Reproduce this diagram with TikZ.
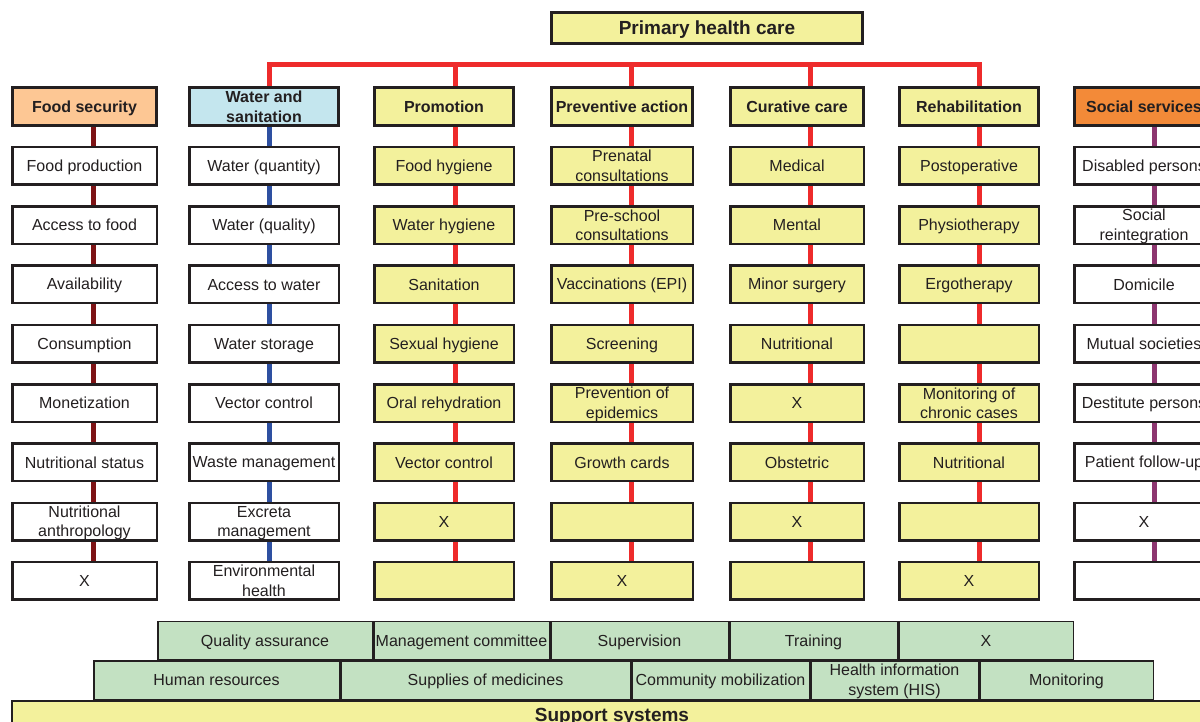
\documentclass[tikz,border=0pt]{standalone}
\usepackage{fontspec}
\setmainfont{Liberation Sans}
\usepackage{xcolor}
\usetikzlibrary{backgrounds}

\definecolor{boxline}{HTML}{231F20}
\definecolor{phcyellow}{HTML}{F3F19C}
\definecolor{supgreen}{HTML}{C3E1C2}
\definecolor{foodorange}{HTML}{FDC794}
\definecolor{waterblue}{HTML}{C4E6EE}
\definecolor{socialorange}{HTML}{F38A38}
\definecolor{linkred}{HTML}{EE2B2B}
\definecolor{linkdark}{HTML}{7D1315}
\definecolor{linkblue}{HTML}{2E50A1}
\definecolor{linkpurple}{HTML}{8D3670}

% struts that centre the capitals
\newcommand{\cell}[1]{\rule{0pt}{0.9em}#1\rule[-0.18em]{0pt}{0pt}}

\begin{document}
\begin{tikzpicture}[
        x=1pt,y=-1pt,
        box/.style={
            draw=boxline,
            line width=2.5pt,
            minimum height=37.5pt,
            inner xsep=1pt,
            inner ysep=0pt,
            align=center,
            text=boxline,
            font=\fontsize{16}{19.5}\selectfont
          },
        headbox/.style={
            box,
            line width=3pt,
            minimum height=38pt,
            font=\fontsize{16}{19.5}\selectfont\bfseries
          },
        supbox/.style={
            box,
            line width=1.5pt,
            fill=supgreen,
            minimum height=38.5pt
          },
        link/.style={
            line width=5pt
          }
      ]
      \useasboundingbox (0,0) rectangle (1200,722);

      % Primary health care
      \node[headbox, fill=phcyellow, minimum width=311pt, minimum height=31pt,
        font=\fontsize{19}{22}\selectfont\bfseries] (phc) at (707,28) {\cell{Primary health care}};

      % x positions of the links
      \coordinate (bar) at (0,65);
      \coordinate (food-x) at (93,0);
      \coordinate (water-x) at (269,0);
      \coordinate (promo-x) at (455,0);
      \coordinate (prev-x) at (631,0);
      \coordinate (cure-x) at (810,0);
      \coordinate (rehab-x) at (979,0);
      \coordinate (social-x) at (1154,0);

      % Food security
      \node[headbox, fill=foodorange, minimum width=144pt] (food0) at (84.5,106.5) {\cell{Food security}};
      \foreach \txt [count=\i] in {Food production, Access to food, Availability, Consumption,
          Monetization, Nutritional status, {Nutritional\\anthropology}, X}
        \node[box, fill=white, minimum width=144.5pt] (food\i) at (84.5,{106.5+59.3*\i}) {\cell{\txt}};

      % Water and sanitation
      \node[headbox, fill=waterblue, minimum width=149pt] (water0) at (264,106.5) {\cell{Water and\\sanitation}};
      \foreach \txt [count=\i] in {Water (quantity), Water (quality), Access to water, Water storage,
          Vector control, Waste management, {Excreta\\management}, {Environmental\\health}}
        \node[box, fill=white, minimum width=149.5pt] (water\i) at (264,{106.5+59.3*\i}) {\cell{\txt}};

      % Promotion
      \node[headbox, fill=phcyellow, minimum width=139pt] (promo0) at (444,106.5) {\cell{Promotion}};
      \foreach \txt [count=\i] in {Food hygiene, Water hygiene, Sanitation, Sexual hygiene,
          Oral rehydration, Vector control, X, {}}
        \node[box, fill=phcyellow, minimum width=139.5pt] (promo\i) at (444,{106.5+59.3*\i}) {\cell{\txt}};

      % Preventive action
      \node[headbox, fill=phcyellow, minimum width=141pt] (prev0) at (622,106.5) {\cell{Preventive action}};
      \foreach \txt [count=\i] in {{Prenatal\\consultations}, {Pre-school\\consultations},
          Vaccinations (EPI), Screening, {Prevention of\\epidemics}, Growth cards, {}, X}
        \node[box, fill=phcyellow, minimum width=141.5pt] (prev\i) at (622,{106.5+59.3*\i}) {\cell{\txt}};

      % Curative care
      \node[headbox, fill=phcyellow, minimum width=133pt] (cure0) at (797,106.5) {\cell{Curative care}};
      \foreach \txt [count=\i] in {Medical, Mental, Minor surgery, Nutritional, X, Obstetric, X, {}}
        \node[box, fill=phcyellow, minimum width=133.5pt] (cure\i) at (797,{106.5+59.3*\i}) {\cell{\txt}};

      % Rehabilitation
      \node[headbox, fill=phcyellow, minimum width=139pt] (rehab0) at (969,106.5) {\cell{Rehabilitation}};
      \foreach \txt [count=\i] in {Postoperative, Physiotherapy, Ergotherapy, {},
          {Monitoring of\\chronic cases}, Nutritional, {}, X}
        \node[box, fill=phcyellow, minimum width=139.5pt] (rehab\i) at (969,{106.5+59.3*\i}) {\cell{\txt}};

      % Social services
      \node[headbox, fill=socialorange, minimum width=139pt] (social0) at (1144,106.5) {\cell{Social services}};
      \foreach \txt [count=\i] in {Disabled persons, {Social\\reintegration}, Domicile, Mutual societies,
          Destitute persons, Patient follow-up, X, {}}
        \node[box, fill=white, minimum width=139.5pt] (social\i) at (1144,{106.5+59.3*\i}) {\cell{\txt}};

      % links behind the boxes
      \begin{scope}[on background layer]
        \draw[link, linkred] (water0.center -| water-x) -- (bar -| water-x)
          -- (bar -| rehab-x) -- (rehab0.center -| rehab-x);
        \foreach \col in {promo,prev,cure}
          \draw[link, linkred] (bar -| \col-x) -- (\col0.center -| \col-x);
        \draw[link, linkdark] (food0.center -| food-x) -- (food8.center -| food-x);
        \draw[link, linkblue] (water0.center -| water-x) -- (water8.center -| water-x);
        \foreach \col in {promo,prev,cure,rehab}
          \draw[link, linkred] (\col0.center -| \col-x) -- (\col8.center -| \col-x);
        \draw[link, linkpurple] (social0.center -| social-x) -- (social8.center -| social-x);
      \end{scope}

      % Support systems
      \node[supbox, minimum width=214.5pt] (qa) at (265,640.5) {\cell{Quality assurance}};
      \node[supbox, minimum width=175.5pt] (mc) at (461.5,640.5) {\cell{Management committee}};
      \node[supbox, minimum width=177.5pt] (sv) at (639.5,640.5) {\cell{Supervision}};
      \node[supbox, minimum width=167.5pt] (tr) at (813.5,640.5) {\cell{Training}};
      \node[supbox, minimum width=174.5pt] (sx) at (986,640.5) {\cell{X}};

      \node[supbox, minimum width=245.5pt] (hr) at (216.5,680) {\cell{Human resources}};
      \node[supbox, minimum width=289.5pt] (sm) at (485.5,680) {\cell{Supplies of medicines}};
      \node[supbox, minimum width=177.5pt] (cm) at (720.5,680) {\cell{Community mobilization}};
      \node[supbox, minimum width=167.5pt] (his) at (894.5,680) {\cell{Health information\\system (HIS)}};
      \node[supbox, minimum width=173.5pt] (mon) at (1066.5,680) {\cell{Monitoring}};

      \node[supbox, fill=phcyellow, minimum width=1200.5pt, minimum height=27.5pt,
        font=\fontsize{19}{22}\selectfont\bfseries] (support) at (612,714.5) {\cell{Support systems}};

    \end{tikzpicture}
\end{document}
